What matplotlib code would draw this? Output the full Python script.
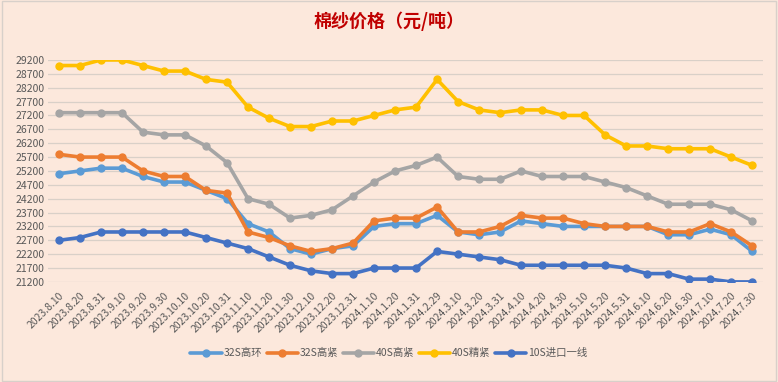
import matplotlib
matplotlib.use("Agg")
import matplotlib.pyplot as plt
import numpy as np

plt.rcParams["font.family"] = ["Noto Sans CJK SC", "DejaVu Sans"]

dates = ["2023.8.10", "2023.8.20", "2023.8.31", "2023.9.10", "2023.9.20", "2023.9.30",
         "2023.10.10", "2023.10.20", "2023.10.31", "2023.11.10", "2023.11.20", "2023.11.30",
         "2023.12.10", "2023.12.20", "2023.12.31", "2024.1.10", "2024.1.20", "2024.1.31",
         "2024.2.29", "2024.3.10", "2024.3.20", "2024.3.31", "2024.4.10", "2024.4.20",
         "2024.4.30", "2024.5.10", "2024.5.20", "2024.5.31", "2024.6.10", "2024.6.20",
         "2024.6.30", "2024.7.10", "2024.7.20", "2024.7.30"]

s32_huan = [25100, 25200, 25300, 25300, 25000, 24800, 24800, 24500, 24200, 23300,
            23000, 22400, 22200, 22400, 22500, 23200, 23300, 23300, 23600, 23000,
            22900, 23000, 23400, 23300, 23200, 23200, 23200, 23200, 23200, 22900,
            22900, 23100, 22900, 22300]
s32_jin = [25800, 25700, 25700, 25700, 25200, 25000, 25000, 24500, 24400, 23000,
           22800, 22500, 22300, 22400, 22600, 23400, 23500, 23500, 23900, 23000,
           23000, 23200, 23600, 23500, 23500, 23300, 23200, 23200, 23200, 23000,
           23000, 23300, 23000, 22500]
s40_gao = [27300, 27300, 27300, 27300, 26600, 26500, 26500, 26100, 25500, 24200,
           24000, 23500, 23600, 23800, 24300, 24800, 25200, 25400, 25700, 25000,
           24900, 24900, 25200, 25000, 25000, 25000, 24800, 24600, 24300, 24000,
           24000, 24000, 23800, 23400]
s40_jing = [29000, 29000, 29200, 29200, 29000, 28800, 28800, 28500, 28400, 27500,
            27100, 26800, 26800, 27000, 27000, 27200, 27400, 27500, 28500, 27700,
            27400, 27300, 27400, 27400, 27200, 27200, 26500, 26100, 26100, 26000,
            26000, 26000, 25700, 25400]
s10_import = [22700, 22800, 23000, 23000, 23000, 23000, 23000, 22800, 22600, 22400,
              22100, 21800, 21600, 21500, 21500, 21700, 21700, 21700, 22300, 22200,
              22100, 22000, 21800, 21800, 21800, 21800, 21800, 21700, 21500, 21500,
              21300, 21300, 21200, 21200]

series = [
    ("32S高环", s32_huan, "#5B9BD5"),
    ("32S高紧", s32_jin, "#ED7D31"),
    ("40S高紧", s40_gao, "#A5A5A5"),
    ("40S精紧", s40_jing, "#FFC000"),
    ("10S进口一线", s10_import, "#4472C4"),
]

bg = "#FCE8DC"
fig = plt.figure(figsize=(7.78, 3.82), dpi=100, facecolor=bg)
ax = fig.add_axes([0.0623, 0.262, 0.918, 0.581])
ax.set_facecolor(bg)

x = np.arange(len(dates))
for name, vals, col in series:
    ax.plot(x, vals, color=col, lw=2.6, marker="o", ms=5, label=name,
            solid_capstyle="round")

ax.set_xlim(-0.5, len(dates) - 0.5)
ax.set_ylim(21200, 29200)
ax.set_yticks(np.arange(21200, 29201, 500))
ax.set_xticks(x)
ax.set_xticklabels(dates, rotation=45, ha="right", rotation_mode="anchor")
ax.tick_params(axis="both", length=0, labelsize=7.5, colors="#595959", pad=3)
ax.tick_params(axis="x", pad=6)
ax.grid(axis="y", color="#D9D0C8", lw=0.9)
ax.set_axisbelow(True)
for sp in ax.spines.values():
    sp.set_visible(False)

fig.text(0.5, 0.945, "棉纱价格（元/吨）", ha="center", va="center",
         fontsize=13, fontweight="bold", color="#C00000")

leg = fig.legend(loc="center", bbox_to_anchor=(0.5, 0.075), ncol=5, frameon=False,
                 fontsize=7.5, handlelength=3.0, handletextpad=0.2, columnspacing=0.4,
                 labelcolor="#595959")

fig.patches.append(plt.Rectangle((0.002, 0.003), 0.996, 0.994, transform=fig.transFigure,
                                 fill=False, edgecolor="#D8D0CA", lw=1))

fig.savefig("out.png", dpi=100, facecolor=bg)
